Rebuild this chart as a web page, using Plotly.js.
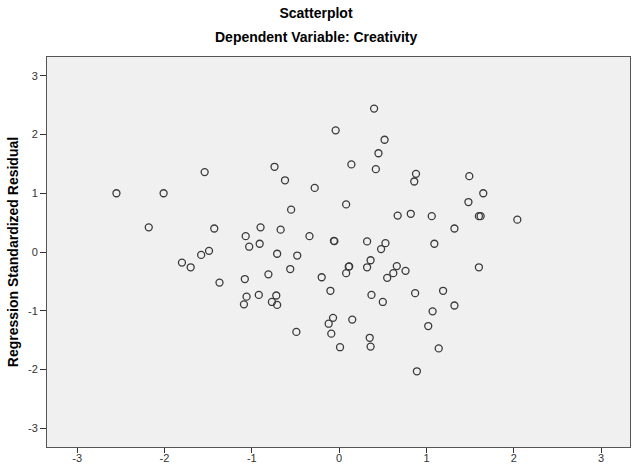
<!DOCTYPE html>
<html>
<head>
<meta charset="utf-8">
<script src="https://cdn.plot.ly/plotly-3.0.1.min.js"></script>
<style>html,body{margin:0;padding:0;background:#fff;}#chart{width:632px;height:465px;}</style>
</head>
<body>
<div id="chart"></div>
<script>
// Regression standardized predicted value (x) and standardized residual (y)
const predicted = [
  -2.55, -2.01, -1.54, -2.18, -1.43, -1.58, -1.49, -1.80, -1.07, -1.03,
  -0.90, -0.91, -0.74, -0.62, -0.55, -0.67, -0.71, -0.48, -0.28, -0.34,
  -0.04, -0.06, -0.055, 0.40, 0.52, 0.45, 0.14, 0.42, 0.88, 0.86,
  1.49, 1.65, 1.48, 0.08, 0.67, 0.82, 1.06, 1.60, 1.62, 2.04,
  1.32, 0.32, 0.53, 0.48, 1.09, -1.70, -1.37, -0.56, -0.81, -1.08,
  -0.20, -0.10, -1.06, -1.09, -0.92, -0.72, -0.77, -0.71, -0.07, -0.12,
  -0.09, -0.49, 0.01, 0.36, 0.11, 0.115, 0.32, 0.08, 0.66, 0.62,
  0.55, 0.76, 1.60, 0.37, 0.50, 0.87, 1.19, 1.32, 1.07, 1.02,
  0.15, 0.35, 0.36, 1.14, 0.89
];
const residual = [
  1.00, 1.00, 1.36, 0.42, 0.40, -0.05, 0.02, -0.18, 0.27, 0.09,
  0.42, 0.14, 1.45, 1.22, 0.72, 0.38, -0.03, -0.06, 1.09, 0.27,
  2.07, 0.19, 0.185, 2.44, 1.91, 1.68, 1.49, 1.41, 1.33, 1.20,
  1.29, 1.00, 0.85, 0.81, 0.62, 0.65, 0.61, 0.61, 0.61, 0.55,
  0.40, 0.18, 0.15, 0.05, 0.14, -0.26, -0.52, -0.29, -0.38, -0.46,
  -0.43, -0.66, -0.76, -0.89, -0.73, -0.74, -0.85, -0.90, -1.12, -1.22,
  -1.39, -1.36, -1.62, -0.14, -0.25, -0.245, -0.26, -0.36, -0.24, -0.36,
  -0.44, -0.32, -0.26, -0.73, -0.85, -0.70, -0.66, -0.91, -1.01, -1.26,
  -1.15, -1.46, -1.61, -1.64, -2.03
];
const tickValues = [-3, -2, -1, 0, 1, 2, 3];
const tickLabels = ['-3', '-2', '-1', '0', '1', '2', '3'];

const FONT = 'Liberation Sans, Arial, sans-serif';

const trace = {
  type: 'scatter',
  mode: 'markers',
  x: predicted,
  y: residual,
  marker: {
    symbol: 'circle-open',
    size: 7,
    color: '#3a3a3a',
    line: {width: 1.3, color: '#3a3a3a'}
  },
  hoverinfo: 'x+y'
};

const axisCommon = {
  tickmode: 'array',
  tickvals: tickValues,
  ticktext: tickLabels,
  ticks: 'outside',
  ticklen: 6,
  tickwidth: 1,
  tickcolor: '#333',
  showgrid: false,
  zeroline: false,
  showline: true,
  linecolor: '#555',
  linewidth: 1,
  mirror: true,
  tickfont: {family: FONT, size: 11, color: '#333'}
};

const layout = {
  width: 632,
  height: 465,
  margin: {l: 47, r: 2, t: 57, b: 18},
  paper_bgcolor: '#ffffff',
  plot_bgcolor: '#f0f0f0',
  showlegend: false,
  title: {
    text: 'Scatterplot',
    font: {family: FONT, size: 14, color: '#000', weight: 'bold'},
    x: 0.5, xref: 'container', xanchor: 'center',
    y: 1 - 13 / 465, yref: 'container', yanchor: 'middle'
  },
  annotations: [{
    text: 'Dependent Variable: Creativity',
    font: {family: FONT, size: 14, color: '#000', weight: 'bold'},
    xref: 'paper', yref: 'paper',
    x: (316 - 47) / 583, y: (447 - 37) / 390,
    xanchor: 'center', yanchor: 'middle',
    showarrow: false
  }],
  xaxis: Object.assign({}, axisCommon, {
    range: [-3.345, 3.33],
    ticklen: 5,
    ticklabelstandoff: -4
  }),
  yaxis: Object.assign({}, axisCommon, {
    range: [-3.318, 3.318],
    title: {
      text: 'Regression Standardized Residual',
      font: {family: FONT, size: 14, color: '#000', weight: 'bold'},
      standoff: 6
    }
  })
};

Plotly.newPlot('chart', [trace], layout, {displayModeBar: false, staticPlot: true});
</script>
</body>
</html>
